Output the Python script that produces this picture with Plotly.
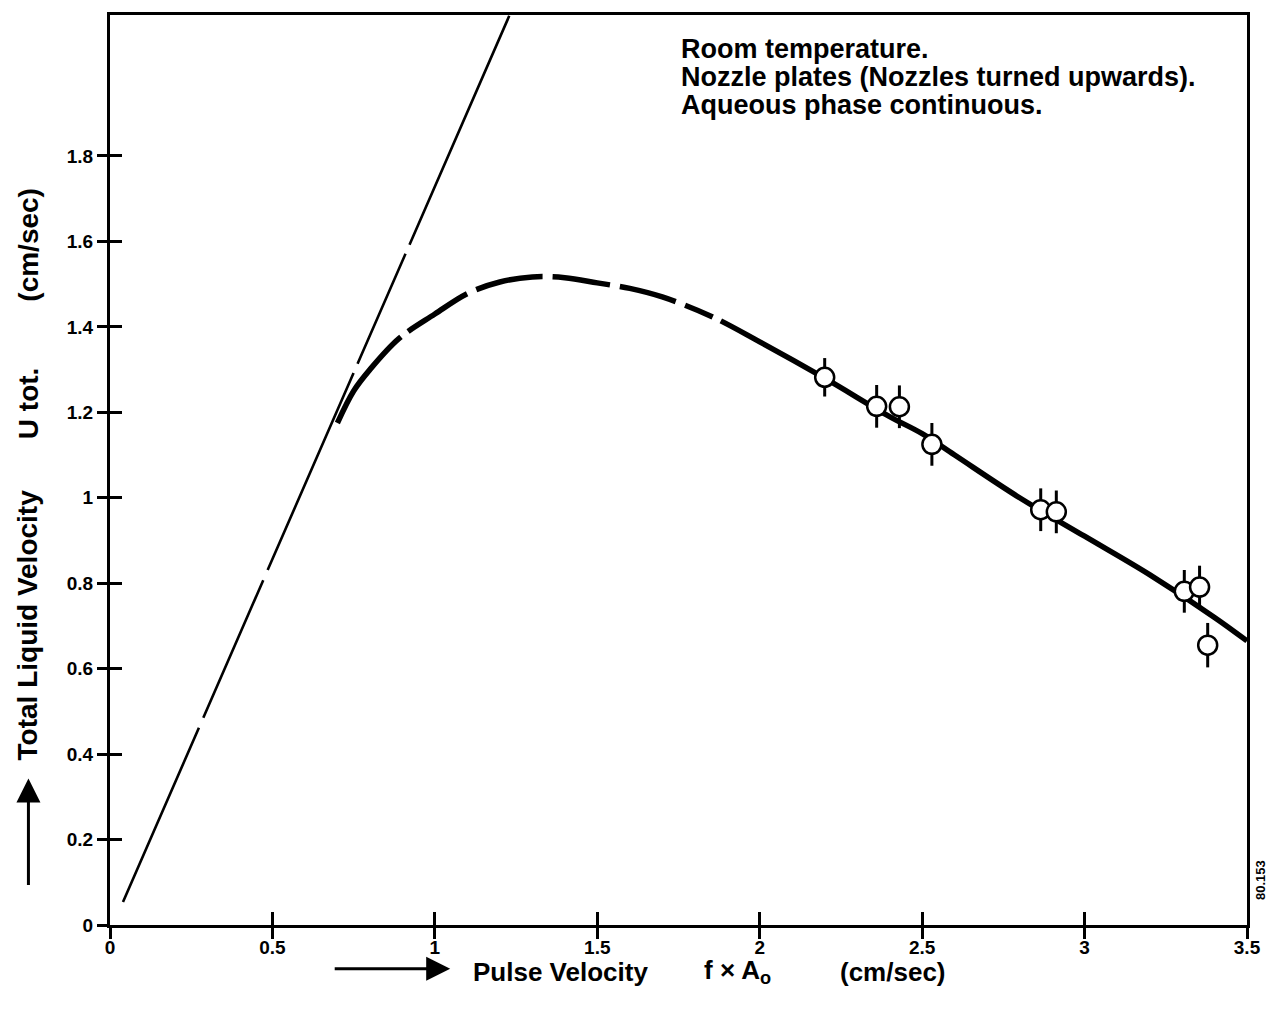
import plotly.graph_objects as go

# Measured operating points with their scatter (cm/sec)
pulse_velocity = [2.20, 2.36, 2.43, 2.53, 2.865, 2.913, 3.307, 3.354, 3.379]
liquid_velocity = [1.282, 1.214, 1.213, 1.125, 0.972, 0.967, 0.781, 0.791, 0.655]
liquid_error = [0.045, 0.05, 0.05, 0.05, 0.05, 0.05, 0.05, 0.05, 0.052]

# Flooding curve through the measurements
curve_x = [0.70, 0.75, 0.80, 0.89, 1.00, 1.10, 1.20, 1.30, 1.40, 1.50, 1.60,
           1.70, 1.85, 2.00, 2.20, 2.40, 2.50, 2.60, 2.80, 3.00, 3.20, 3.40, 3.50]
curve_y = [1.175, 1.25, 1.30, 1.373, 1.43, 1.478, 1.505, 1.517, 1.515, 1.503, 1.49,
           1.47, 1.425, 1.365, 1.28, 1.19, 1.15, 1.10, 1.00, 0.91, 0.82, 0.72, 0.665]

# Straight line through the origin region (tangent to the curve)
line_x = [0.04, 1.229]
line_y = [0.054, 2.128]

x_ticks = [0, 0.5, 1, 1.5, 2, 2.5, 3, 3.5]
x_ticktext = ["0", "0.5", "1", "1.5", "2", "2.5", "3", "3.5"]
y_ticks = [0, 0.2, 0.4, 0.6, 0.8, 1.0, 1.2, 1.4, 1.6, 1.8]
y_ticktext = ["0", "0.2", "0.4", "0.6", "0.8", "1", "1.2", "1.4", "1.6", "1.8"]

conditions = ["Room temperature.",
              "Nozzle plates (Nozzles turned upwards).",
              "Aqueous phase continuous."]

X_RANGE = [0, 3.5]
Y_RANGE = [0, 2.13]

FONT = "Liberation Sans, Arial, Helvetica, sans-serif"

# plot-area geometry in pixels (used to place the free-standing labels)
W, H = 1273, 1011
L, R, T, B = 110, 20, 12, 86
PW, PH = W - L - R, H - T - B


def px(xp):
    return (xp - L) / PW


def py(yp):
    return (H - B - yp) / PH


fig = go.Figure()

# thin long-dashed straight line
fig.add_trace(go.Scatter(
    x=line_x, y=line_y, mode="lines",
    line=dict(color="black", width=2.6, dash="190px,11px,150px,11px,215px,10px,120px,10px,600px"),
    hoverinfo="skip", showlegend=False,
))

# thick curve: solid start, broken middle, solid tail
fig.add_trace(go.Scatter(
    x=curve_x, y=curve_y, mode="lines",
    line=dict(color="black", width=5.5, shape="spline", smoothing=1.0,
              dash="108px,9px,70px,10px,68px,10px,58px,10px,58px,10px,30px,9px,3000px"),
    hoverinfo="skip", showlegend=False,
))

# data points with vertical scatter bars
fig.add_trace(go.Scatter(
    x=pulse_velocity, y=liquid_velocity, mode="markers",
    marker=dict(symbol="circle", size=19, color="white", line=dict(color="black", width=2.5)),
    error_y=dict(type="data", array=liquid_error, visible=True, color="black", thickness=3, width=0),
    showlegend=False,
))

# invisible trace carrying the outward tick marks
fig.add_trace(go.Scatter(x=[X_RANGE[0]], y=[Y_RANGE[0]], xaxis="x2", yaxis="y2",
                         mode="markers", marker=dict(opacity=0), hoverinfo="skip", showlegend=False))

tick_font = dict(family=FONT, size=19, color="black", weight="bold")

fig.update_layout(
    width=W, height=H,
    margin=dict(l=L, r=R, t=T, b=B),
    paper_bgcolor="white", plot_bgcolor="white",
    font=dict(family=FONT, color="black"),
    xaxis=dict(range=X_RANGE, tickvals=x_ticks, ticktext=x_ticktext, ticks="inside", ticklen=13,
               tickwidth=3, tickcolor="black", showline=True, linewidth=3, linecolor="black",
               mirror=True, showgrid=False, zeroline=False, tickfont=tick_font, ticklabelstandoff=3),
    yaxis=dict(range=Y_RANGE, tickvals=y_ticks, ticktext=y_ticktext, ticks="inside", ticklen=12,
               tickwidth=3, tickcolor="black", showline=True, linewidth=3, linecolor="black",
               mirror=True, showgrid=False, zeroline=False, tickfont=tick_font, ticklabelstandoff=10),
    xaxis2=dict(range=X_RANGE, overlaying="x", tickvals=x_ticks, ticks="outside", ticklen=13,
                tickwidth=3, tickcolor="black", showticklabels=False, showline=False,
                showgrid=False, zeroline=False),
    yaxis2=dict(range=Y_RANGE, overlaying="y", tickvals=y_ticks, ticks="outside", ticklen=12,
                tickwidth=3, tickcolor="black", showticklabels=False, showline=False,
                showgrid=False, zeroline=False),
)

bold = dict(family=FONT, color="black", weight="bold")

annotations = []

# conditions block, one line per annotation for tight spacing
for i, line in enumerate(conditions):
    annotations.append(dict(x=px(682), y=py(46 + 28 * i), xref="paper", yref="paper",
                            xanchor="left", yanchor="middle", text=line, showarrow=False,
                            font=dict(**bold, size=27)))

# x axis title pieces
for xp, txt in [(473, "Pulse Velocity"), (705, "f × A<sub>o</sub>"), (842, "(cm/sec)")]:
    annotations.append(dict(x=px(xp), y=py(972), xref="paper", yref="paper", xanchor="left",
                            yanchor="middle", text=txt, showarrow=False, font=dict(**bold, size=26)))

# x arrow
annotations.append(dict(x=px(452), y=py(969), xref="paper", yref="paper", ax=-117, ay=0,
                        text="", showarrow=True, arrowhead=2, arrowsize=1.6, arrowwidth=3,
                        arrowcolor="black"))

# y axis title pieces
for yp, txt in [(624, "Total Liquid Velocity"), (401, "U tot."), (242, "(cm/sec)")]:
    annotations.append(dict(x=px(28), y=py(yp), xref="paper", yref="paper", xanchor="center",
                            yanchor="middle", textangle=-90, text=txt, showarrow=False,
                            font=dict(**bold, size=28)))

# y arrow
annotations.append(dict(x=px(28), y=py(778), xref="paper", yref="paper", ax=0, ay=108,
                        text="", showarrow=True, arrowhead=2, arrowsize=1.6, arrowwidth=3,
                        arrowcolor="black"))

# figure number
annotations.append(dict(x=px(1266), y=py(880), xref="paper", yref="paper", xanchor="center",
                        yanchor="middle", textangle=-90, text="80.153", showarrow=False,
                        font=dict(**bold, size=13)))

fig.update_layout(annotations=annotations)

fig.write_html("out.html")
